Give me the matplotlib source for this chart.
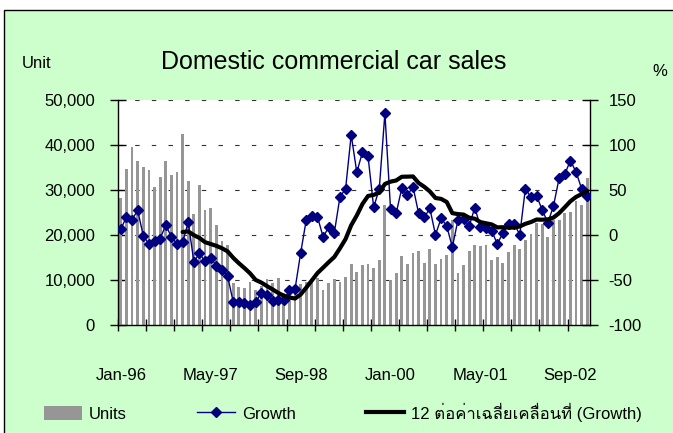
import numpy as np
import pandas as pd
import matplotlib
matplotlib.use("Agg")
import matplotlib.pyplot as plt
from matplotlib import font_manager
from matplotlib.ft2font import FT2Font
from matplotlib.patches import Rectangle, Patch
from matplotlib.lines import Line2D
from matplotlib.ticker import FuncFormatter, MultipleLocator

# monthly data Jan-96 .. Dec-02
months = pd.date_range("1996-01-01", periods=84, freq="MS")
tick_labels = ["Jan-96", "May-97", "Sep-98", "Jan-00", "May-01", "Sep-02"]

units = [
    28200, 34700, 39600, 36400, 35100, 34400, 30700, 32900, 36400, 33300, 34000, 42400,
    32000, 24700, 31100, 25500, 26000, 22200, 18700, 17800, 9300, 8400, 8200, 9500,
    7700, 8700, 10200, 9300, 10500, 7200, 8000, 8200, 9200, 9500, 10300, 10500,
    7800, 9400, 10300, 9600, 10700, 13600, 11800, 13300, 13500, 12700, 14400, 26700,
    10000, 11600, 15400, 13600, 16000, 16500, 13800, 16900, 13600, 14700, 15500, 23300,
    11600, 13300, 16400, 17800, 17600, 17800, 14400, 15100, 13700, 16200, 17800, 16900,
    18900, 20200, 22600, 22400, 19600, 23300, 23300, 24900, 25100, 27600, 26700, 32700,
]

growth = [
    6.5, 20.0, 17.0, 27.5, -1.0, -10.0, -6.7, -4.0, 11.0, -2.0, -10.5, -7.8,
    14.0, -29.5, -20.5, -29.3, -25.0, -34.3, -38.7, -45.6, -74.3, -74.3, -75.4, -77.8,
    -74.5, -64.5, -67.0, -73.0, -72.3, -72.3, -61.5, -60.3, -20.2, 16.7, 21.0, 20.2,
    -2.0, 8.5, 2.5, 42.4, 51.1, 111.3, 69.6, 92.0, 87.4, 30.6, 51.5, 135.4,
    29.0, 24.2, 51.8, 44.2, 53.7, 24.0, 19.5, 29.5, 0.2, 18.5, 10.0, -13.5,
    16.7, 17.6, 10.0, 30.5, 9.0, 7.8, 4.8, -10.0, 2.2, 12.6, 12.6, 0.3,
    51.5, 41.8, 43.3, 27.8, 13.7, 32.2, 63.0, 67.4, 82.6, 70.4, 51.5, 43.3,
]

# 12 period moving average trendline of the growth series
ma = pd.Series(growth).rolling(12).mean()


def thai_font():
    for f in font_manager.fontManager.ttflist:
        try:
            if 0x0E40 in FT2Font(f.fname).get_charmap():
                return f.name
        except Exception:
            continue
    return None


fams = ["Liberation Sans"]
tf = thai_font()
if tf:
    fams.append(tf)
fams.append("DejaVu Sans")
plt.rcParams["font.family"] = fams
plt.rcParams["axes.unicode_minus"] = False

W, H = 673, 433
fig = plt.figure(figsize=(W / 100, H / 100), dpi=100)
fig.patch.set_facecolor("white")
fig.patches.append(Rectangle((4 / W, -0.1), 1.2, 1 - 10 / H + 0.1, transform=fig.transFigure,
                             facecolor="#CCFFCC", edgecolor="black", lw=1.0, zorder=-5))

ax = fig.add_axes([118 / W, 1 - 325 / H, 472 / W, 225 / H])
ax.set_facecolor("white")
x = np.arange(len(units))
ax.bar(x, units, width=0.5, color="#969696", zorder=2)
ax.set_xlim(-0.5, len(units) - 0.5)
ax.set_ylim(0, 50000)
ax.yaxis.set_major_locator(MultipleLocator(10000))
ax.yaxis.set_major_formatter(FuncFormatter(lambda v, p: f"{int(v):,}"))
ax.set_axisbelow(True)
ax.grid(axis="y", color="#333333", linestyle=(0, (4, 11)), linewidth=0.8)
for s in ["top", "right"]:
    ax.spines[s].set_visible(False)
for s in ["left", "bottom"]:
    ax.spines[s].set_color("black")
    ax.spines[s].set_linewidth(1.0)

labels = list(months.strftime("%b-%y"))
ax.set_xticks([labels.index(t) for t in tick_labels])
ax.set_xticklabels(tick_labels)
ax.set_xticks(np.arange(-0.5, len(units), 5), minor=True)
ax.tick_params(axis="x", which="major", length=0, pad=31, labelsize=12)
ax.tick_params(axis="x", which="minor", direction="inout", length=9, width=1)
ax.tick_params(axis="y", direction="inout", length=12, width=1, pad=10.5, labelsize=12)

ax2 = ax.twinx()
ax2.set_ylim(-100, 150)
ax2.yaxis.set_major_locator(MultipleLocator(50))
for s in ["top", "left", "bottom"]:
    ax2.spines[s].set_visible(False)
ax2.spines["right"].set_color("black")
ax2.spines["right"].set_linewidth(1.0)
ax2.tick_params(axis="y", direction="inout", length=12, width=1, pad=7.5, labelsize=12)
ax2.plot(x, growth, color="#000080", lw=1, marker="D", ms=5.5, zorder=3)
ax2.plot(x, ma, color="black", lw=3, solid_capstyle="round", zorder=4)

fig.text(334 / W, 1 - 69 / H, "Domestic commercial car sales", ha="center", va="baseline", fontsize=18)
fig.text(22 / W, 1 - 68 / H, "Unit", ha="left", va="baseline", fontsize=12)
fig.text(660 / W, 1 - 76 / H, "%", ha="center", va="baseline", fontsize=12)

handles = [Patch(facecolor="#969696", edgecolor="none"),
           Line2D([], [], color="#000080", lw=1, marker="D", ms=5),
           Line2D([], [], color="black", lw=3)]
names = ["Units", "Growth", "12 ต่อค่าเฉลี่ยเคลื่อนที่ (Growth)"]
fig.legend(handles, names, loc="center left", bbox_to_anchor=(44 / W, 1 - 412 / H), ncol=3,
           frameon=False, fontsize=12, handlelength=2.3, handletextpad=0.4,
           columnspacing=4.2, borderpad=0, borderaxespad=0, handleheight=0.9)

fig.savefig("out.png", dpi=100, facecolor=fig.get_facecolor())
